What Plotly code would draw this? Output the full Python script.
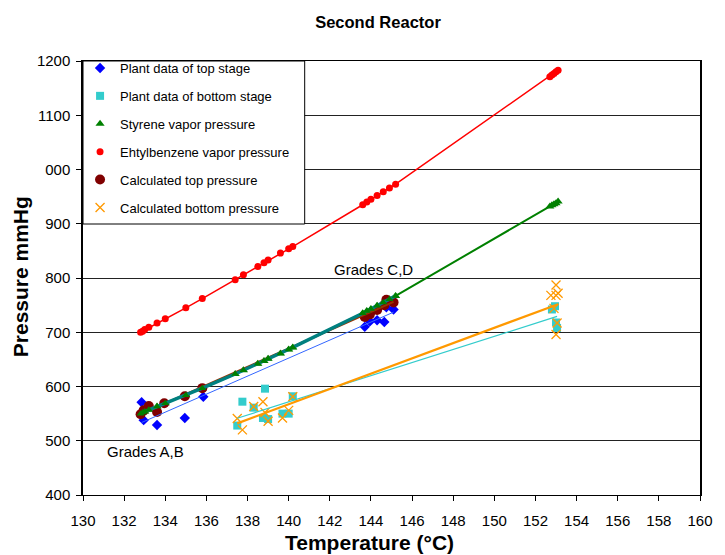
import numpy as np
import plotly.graph_objects as go

# ---------------- data ----------------
t_vp = [132.8, 132.9, 133.0, 133.2, 133.6, 134.0, 135.0, 135.8, 137.4, 137.8, 138.5, 138.8,
        139.0, 139.6, 140.0, 140.2, 143.6, 143.8, 144.0, 144.3, 144.6, 144.9, 145.2,
        152.7, 152.8, 152.9, 153.0, 153.1]
eb_vp = [700, 702, 705, 709, 717, 725, 745, 762, 797, 806, 821, 828,
         833, 846, 854, 858, 935, 940, 945, 952, 959, 966, 973,
         1171, 1174, 1177, 1180, 1183]
sty_vp = [550, 552, 554, 557, 563, 569, 584, 597, 623, 630, 642, 647,
          651, 661, 668, 672, 735, 739, 743, 749, 755, 761, 767,
          932, 934, 936, 938, 941]

t_top_plant = [132.85, 132.95, 133.6, 134.95, 135.85, 143.7, 143.95, 144.3, 144.65, 144.75, 145.1]
p_top_plant = [571, 538, 529, 542, 581, 710, 720, 722, 719, 746, 742]

t_top_calc = [132.8, 132.95, 133.2, 133.6, 133.95, 134.95, 135.8, 143.7, 143.95, 144.3, 144.65, 144.75, 145.1]
p_top_calc = [549, 556, 564, 553, 569, 582, 597, 728, 733, 741, 750, 760, 755]

t_bot_plant = [137.5, 137.75, 138.3, 138.75, 138.85, 139.0, 139.7, 140.0, 140.2, 152.8, 152.95, 153.0, 153.05]
p_bot_plant = [528, 572, 561, 542, 596, 540, 550, 550, 582, 742, 748, 718, 708]

t_bot_calc = [137.5, 137.75, 138.3, 138.75, 138.85, 139.0, 139.7, 140.0, 140.2,
              152.75, 152.9, 153.0, 153.0, 153.05, 153.1, 153.0]
p_bot_calc = [541, 520, 563, 572, 552, 536, 542, 556, 581,
              768, 744, 787, 768, 717, 772, 696]

x_ticks = list(range(130, 161, 2))
y_ticks = [400, 500, 600, 700, 800, 900, 1000, 1100, 1200]
y_ticktext = ["400", "500", "600", "700", "800", "900", "000", "1100", "1200"]

FONT = "Liberation Sans, Arial, sans-serif"

# page body has an 8px margin: size the figure so the plot lands where the reference has it
OFF = 8
W, H = 725 - OFF, 555 - OFF
PL, PT, PR, PB = 83, 61, 712, 495          # plot-area edges in window pixels
PW, PH = PR - PL, PB - PT


def fit_line(t, p):
    k, b = np.polyfit(t, p, 1)
    xs = np.array([min(t), max(t)])
    return xs, k * xs + b


fig = go.Figure()

# ---- connecting lines (no legend) ----
fig.add_trace(go.Scatter(x=t_vp, y=sty_vp, mode="lines", showlegend=False, hoverinfo="skip",
                         line=dict(color="#008000", width=2)))
fig.add_trace(go.Scatter(x=t_vp, y=eb_vp, mode="lines", showlegend=False, hoverinfo="skip",
                         line=dict(color="#FF0000", width=1.5)))

# ---- data series (legend order) ----
fig.add_trace(go.Scatter(x=t_top_plant, y=p_top_plant, mode="markers", name="Plant data of top stage",
                         legendgroup="a",
                         marker=dict(symbol="diamond", size=8, color="#0000FF")))
fig.add_trace(go.Scatter(x=t_bot_plant, y=p_bot_plant, mode="markers", name="Plant data of bottom stage",
                         legendgroup="b",
                         marker=dict(symbol="square", size=8, color="#33CCCC")))
fig.add_trace(go.Scatter(x=t_vp, y=sty_vp, mode="markers", name="Styrene vapor pressure",
                         legendgroup="c",
                         marker=dict(symbol="triangle-up", size=8, color="#008000")))
fig.add_trace(go.Scatter(x=t_vp, y=eb_vp, mode="markers", name="Ehtylbenzene vapor pressure",
                         legendgroup="d",
                         marker=dict(symbol="circle", size=7, color="#FF0000")))
fig.add_trace(go.Scatter(x=t_top_calc, y=p_top_calc, mode="markers", name="Calculated top pressure",
                         legendgroup="e",
                         marker=dict(symbol="circle", size=10, color="#800000")))
fig.add_trace(go.Scatter(x=t_bot_calc, y=p_bot_calc, mode="markers", name="Calculated bottom pressure",
                         legendgroup="f",
                         marker=dict(symbol="x-thin", size=9, color="#FF9900",
                                     line=dict(color="#FF9900", width=1.3))))

# ---- linear trendlines ----
for t, p, col, w in [(t_top_calc, p_top_calc, "#993300", 2),
                     (t_top_plant, p_top_plant, "#3366FF", 1),
                     (t_bot_plant, p_bot_plant, "#33CCCC", 1.2),
                     (t_bot_calc, p_bot_calc, "#FF9900", 2.2)]:
    xs, ys = fit_line(t, p)
    fig.add_trace(go.Scatter(x=xs, y=ys, mode="lines", showlegend=False, hoverinfo="skip",
                             line=dict(color=col, width=w)))

# teal band along styrene in the lower range, with its triangles on top
sty_low_t = [t for t in t_vp if t <= 145.2]
sty_low_p = [p for t, p in zip(t_vp, sty_vp) if t <= 145.2]
fig.add_trace(go.Scatter(x=sty_low_t, y=sty_low_p, mode="lines", showlegend=False, hoverinfo="skip",
                         line=dict(color="#008080", width=3.5)))
fig.add_trace(go.Scatter(x=sty_low_t, y=sty_low_p, mode="markers", showlegend=False, hoverinfo="skip",
                         marker=dict(symbol="triangle-up", size=7, color="#008000")))

fig.update_layout(
    width=W, height=H,
    margin=dict(l=PL - OFF, r=W + OFF - PR, t=PT - OFF, b=H + OFF - PB),
    paper_bgcolor="white", plot_bgcolor="white",
    font=dict(family=FONT, color="black", size=15),
    showlegend=True,
    legend=dict(x=-3 / PW, y=1 + 8 / PH, xanchor="left", yanchor="top", bgcolor="rgba(0,0,0,0)",
                borderwidth=0, font=dict(size=13, family=FONT), tracegroupgap=8,
                itemsizing="trace"),
    title=dict(text="<b>Second Reactor</b>", x=(378 - OFF) / W, xanchor="center",
               y=1 - (22 - OFF) / H, yanchor="middle", yref="container",
               font=dict(size=16.5, family=FONT)),
)

fig.update_xaxes(range=[130, 160], tickvals=x_ticks, ticks="outside", ticklen=5, tickcolor="black",
                 showgrid=False, zeroline=False, showline=True, linecolor="black", linewidth=1,
                 mirror=True, tickfont=dict(size=15), ticklabelstandoff=7)
fig.update_yaxes(range=[400, 1200], tickvals=y_ticks, ticktext=y_ticktext, ticks="outside", ticklen=5,
                 tickcolor="black", showgrid=True, gridcolor="#222222", gridwidth=1,
                 zeroline=False, showline=True, linecolor="black", linewidth=1.5, mirror=True,
                 tickfont=dict(size=15), ticklabelstandoff=3)

# legend frame (white box over gridlines)
fig.add_shape(type="rect", xref="paper", yref="paper", x0=0, x1=226 / PW, y0=(PB - 224) / PH, y1=1,
              line=dict(color="black", width=1), fillcolor="white", layer="above")

fig.add_annotation(text="Grades A,B", x=131.05, y=481, xanchor="left", yanchor="middle",
                   showarrow=False, font=dict(size=15))
fig.add_annotation(text="Grades C,D", x=142.1, y=815, xanchor="left", yanchor="middle",
                   showarrow=False, font=dict(size=15))
fig.add_annotation(text="<b>Temperature (°C)</b>", xref="paper", yref="paper", x=(375 - PL) / PW,
                   y=-(542 - PB) / PH, xanchor="center", yanchor="middle", showarrow=False,
                   font=dict(size=21))
fig.add_annotation(text="<b>Pressure mmHg</b>", xref="paper", yref="paper", x=-(PL - 19) / PW,
                   y=(PB - 277) / PH, xanchor="center", yanchor="middle", showarrow=False,
                   textangle=-90, font=dict(size=21))

fig.write_html("out.html")
